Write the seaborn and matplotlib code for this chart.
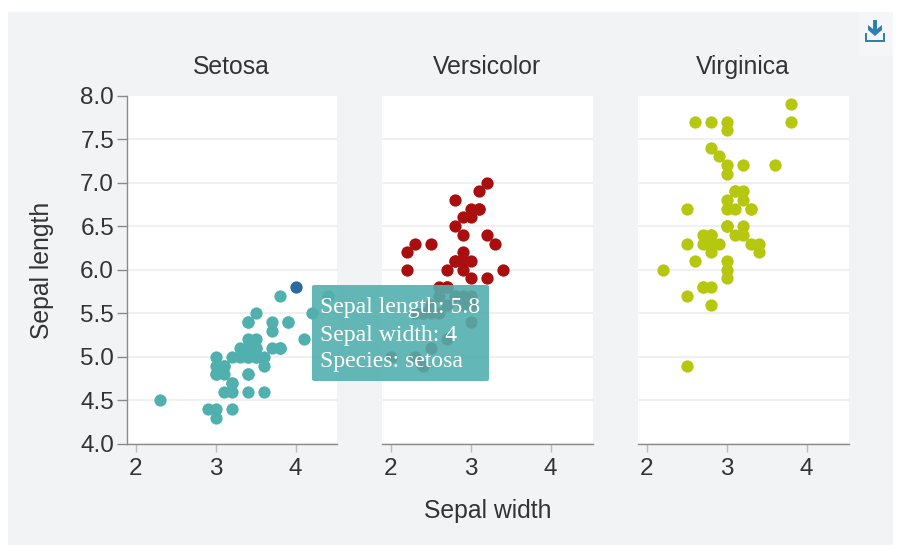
import matplotlib
matplotlib.use("Agg")
import matplotlib.pyplot as plt
from matplotlib.patches import FancyBboxPatch, Rectangle, Polygon
import pandas as pd
import seaborn as sns

setosa_length = [5.1,4.9,4.7,4.6,5.0,5.4,4.6,5.0,4.4,4.9,5.4,4.8,4.8,4.3,5.7,5.4,5.1,5.7,5.1,5.4,5.1,4.6,5.1,4.8,5.0,5.0,5.2,5.2,4.7,4.8,5.4,5.2,5.5,4.9,5.0,5.5,4.9,4.4,5.1,5.0,4.5,4.4,5.0,5.1,4.8,5.1,4.6,5.3,5.0]
setosa_width = [3.5,3.0,3.2,3.1,3.6,3.9,3.4,3.4,2.9,3.1,3.7,3.4,3.0,3.0,4.4,3.9,3.5,3.8,3.8,3.4,3.7,3.6,3.3,3.4,3.0,3.4,3.5,3.4,3.2,3.1,3.4,4.1,4.2,3.1,3.2,3.5,3.6,3.0,3.4,3.5,2.3,3.2,3.5,3.8,3.0,3.8,3.2,3.7,3.3]
versicolor_length = [7.0,6.4,6.9,5.5,6.5,5.7,6.3,4.9,6.6,5.2,5.0,5.9,6.0,6.1,5.6,6.7,5.6,5.8,6.2,5.6,5.9,6.1,6.3,6.1,6.4,6.6,6.8,6.7,6.0,5.7,5.5,5.5,5.8,6.0,5.4,6.0,6.7,6.3,5.6,5.5,5.5,6.1,5.8,5.0,5.6,5.7,5.7,6.2,5.1,5.7]
versicolor_width = [3.2,3.2,3.1,2.3,2.8,2.8,3.3,2.4,2.9,2.7,2.0,3.0,2.2,2.9,2.9,3.1,3.0,2.7,2.2,2.5,3.2,2.8,2.5,2.8,2.9,3.0,2.8,3.0,2.9,2.6,2.4,2.4,2.7,2.7,3.0,3.4,3.1,2.3,3.0,2.5,2.6,3.0,2.6,2.3,2.7,3.0,2.9,2.9,2.5,2.8]
virginica_length = [6.3,5.8,7.1,6.3,6.5,7.6,4.9,7.3,6.7,7.2,6.5,6.4,6.8,5.7,5.8,6.4,6.5,7.7,7.7,6.0,6.9,5.6,7.7,6.3,6.7,7.2,6.2,6.1,6.4,7.2,7.4,7.9,6.4,6.3,6.1,7.7,6.3,6.4,6.0,6.9,6.7,6.9,5.8,6.8,6.7,6.7,6.3,6.5,6.2,5.9]
virginica_width = [3.3,2.7,3.0,2.9,3.0,3.0,2.5,2.9,2.5,3.6,3.2,2.7,3.0,2.5,2.8,3.2,3.0,3.8,2.6,2.2,3.2,2.8,2.8,2.7,3.3,3.2,2.8,3.0,2.8,3.0,2.8,3.8,2.8,2.8,2.6,3.0,3.4,3.1,3.0,3.1,3.1,3.1,2.7,3.2,3.3,3.0,2.5,3.0,3.4,3.0]
highlight_length = [5.8]
highlight_width = [4.0]

species = ["Setosa", "Versicolor", "Virginica"]
y_ticks = [4.0, 4.5, 5.0, 5.5, 6.0, 6.5, 7.0, 7.5, 8.0]
x_ticks = [2, 3, 4]
tooltip_lines = ["Sepal length: 5.8", "Sepal width: 4", "Species: setosa"]

W, H = 913, 555
BG = "#F1F3F5"
INK = "#333333"
AXIS = "#8A8A8A"
sns.set_theme(style="white")
plt.rcParams["font.family"] = ["Liberation Sans", "DejaVu Sans"]

fig = plt.figure(figsize=(W / 100, H / 100), dpi=100, facecolor="white")


def rect(x0, y0, x1, y1):
    return [x0 / W, 1 - y1 / H, (x1 - x0) / W, (y1 - y0) / H]


def fx(x):
    return x / W


def fy(y):
    return 1 - y / H


fig.patches.append(Rectangle((fx(8), fy(545)), 885 / W, 533 / H, transform=fig.transFigure,
                             facecolor=BG, edgecolor="none", zorder=-5))
fig.patches.append(Rectangle((fx(859), fy(56)), 34 / W, 44 / H, transform=fig.transFigure,
                             facecolor="#F4F6F8", edgecolor="none", zorder=-4))

panels = [(126.5, 337), (381.5, 593), (637.5, 849)]
series = [(setosa_width, setosa_length, "#4FB0AE"),
          (versicolor_width, versicolor_length, "#A90F0F"),
          (virginica_width, virginica_length, "#B5C80F")]

for i, ((x0, x1), (xs, ys, color), name) in enumerate(zip(panels, series, species)):
    ax = fig.add_axes(rect(x0, 95.5, x1, 444))
    ax.set_facecolor("white")
    sns.scatterplot(data=pd.DataFrame({"w": xs, "l": ys}), x="w", y="l", color=color,
                    s=78, linewidth=0, ax=ax, clip_on=False, zorder=3)
    if i == 0:
        sns.scatterplot(data=pd.DataFrame({"w": highlight_width, "l": highlight_length}),
                        x="w", y="l", color="#2A6A9E", s=78, linewidth=0, ax=ax,
                        clip_on=False, zorder=4)
    ax.set_xlim(2 - 9 / 80, 2 - 9 / 80 + (x1 - x0) / 80)
    ax.set_ylim(4, 8)
    ax.set_xticks(x_ticks)
    ax.set_yticks(y_ticks)
    ax.set_xlabel("")
    ax.set_ylabel("")
    ax.grid(axis="y", color="#EBEDF0", linewidth=1.2)
    ax.yaxis.get_gridlines()[-1].set_visible(False)
    ax.set_axisbelow(True)
    for side in ("top", "right"):
        ax.spines[side].set_visible(False)
    ax.spines["bottom"].set_color(AXIS)
    ax.spines["bottom"].set_linewidth(1)
    ax.spines["left"].set_color(AXIS)
    ax.spines["left"].set_linewidth(1)
    ax.spines["left"].set_visible(i == 0)
    ax.tick_params(axis="x", bottom=True, length=6, width=1, color="#BBBBBB",
                   labelsize=17.5, labelcolor=INK, pad=4)
    if i == 0:
        ax.set_yticklabels([f"{v:.1f}" for v in y_ticks])
        ax.tick_params(axis="y", left=True, length=7, width=1, color=AXIS,
                       labelsize=17.5, labelcolor=INK, pad=2)
    else:
        ax.tick_params(axis="y", left=False, labelleft=False)
    fig.text(fx((x0 + x1) / 2), fy(67), name, ha="center", va="center",
             fontsize=17.8, color=INK)

fig.text(fx(487.5), fy(511), "Sepal width", ha="center", va="center", fontsize=17.8, color=INK)
fig.text(fx(42), fy(270), "Sepal length", ha="center", va="center", rotation=90,
         fontsize=17.8, color=INK)

# Tooltip above every panel
fig.patches.append(FancyBboxPatch((fx(312), fy(381)), 177 / W, 96 / H,
                                  boxstyle="round,pad=0,rounding_size=0.003",
                                  transform=fig.transFigure, facecolor="#52B0AE", alpha=0.9,
                                  edgecolor="none", linewidth=0, zorder=20))
for line, y in zip(tooltip_lines, (308, 335, 362)):
    fig.text(fx(320), fy(y), line, ha="left", va="center", color="white",
             family=["Liberation Serif", "DejaVu Serif"], fontsize=15 * 161 / 141, zorder=21)

# Download icon
ICON = "#2F7FAF"
arrow = [(873, 20), (877, 20), (877, 29), (882, 25), (882, 30), (875, 36), (868, 30), (868, 25), (873, 29)]
fig.patches.append(Polygon([(fx(a), fy(b)) for a, b in arrow], closed=True, transform=fig.transFigure,
                           facecolor=ICON, edgecolor="none", zorder=6))
tray = [(865, 33), (867, 33), (867, 40), (883, 40), (883, 33), (885, 33), (885, 42), (865, 42)]
fig.patches.append(Polygon([(fx(a), fy(b)) for a, b in tray], closed=True, transform=fig.transFigure,
                           facecolor=ICON, edgecolor="none", zorder=6))

fig.savefig("out.png", dpi=100, facecolor="white")
